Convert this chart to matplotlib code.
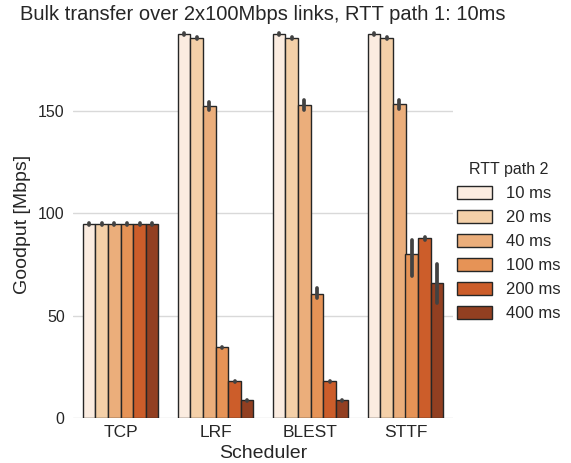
import matplotlib.pyplot as plt
import numpy as np
import pandas as pd
import seaborn as sns

schedulers = ['TCP', 'LRF', 'BLEST', 'STTF']
rtt2 = ['10 ms', '20 ms', '40 ms', '100 ms', '200 ms', '400 ms']

# mean goodput [Mbps], rows = scheduler, cols = RTT path 2
goodput = [
    [94.7, 94.7, 94.7, 94.7, 94.7, 94.7],
    [187.5, 185.5, 152.4, 34.5, 17.9, 8.6],
    [187.5, 185.5, 153.0, 60.8, 17.9, 8.6],
    [187.5, 185.5, 153.2, 80.3, 87.9, 65.8],
]
# confidence interval bounds
ci_low = [
    [94.3, 94.3, 94.3, 94.3, 94.3, 94.3],
    [187.1, 185.1, 150.6, 34.1, 17.5, 8.2],
    [187.1, 185.1, 150.6, 58.4, 17.5, 8.2],
    [187.1, 185.1, 150.8, 69.4, 87.0, 56.2],
]
ci_high = [
    [95.1, 95.1, 95.1, 95.1, 95.1, 95.1],
    [187.9, 185.9, 154.2, 34.9, 18.3, 9.0],
    [187.9, 185.9, 155.5, 63.6, 18.3, 9.0],
    [187.9, 185.9, 155.2, 86.8, 88.6, 75.4],
]

colors = ['#fbece0', '#f4d0a8', '#ebae7b', '#e69356', '#cc5d2a', '#923f21']

sns.set_style('whitegrid')
plt.rcParams['font.family'] = ['Liberation Sans', 'DejaVu Sans']

df = pd.DataFrame([(s, r, goodput[i][j]) for i, s in enumerate(schedulers)
                   for j, r in enumerate(rtt2)],
                  columns=['Scheduler', 'RTT path 2', 'Goodput'])

fig = plt.figure(figsize=(5.71, 4.63), dpi=100)
ax = fig.add_axes([73 / 571, 1 - 418 / 463, 380 / 571, 388 / 463])

sns.barplot(data=df, x='Scheduler', y='Goodput', hue='RTT path 2',
            palette=colors, saturation=1, errorbar=None, edgecolor='.15',
            linewidth=1, ax=ax)

# error bars
w = 0.8 / len(rtt2)
for i in range(len(schedulers)):
    for j in range(len(rtt2)):
        x = i + (j - (len(rtt2) - 1) / 2) * w
        ax.plot([x, x], [ci_low[i][j], ci_high[i][j]], color='.26', lw=2.7,
                solid_capstyle='round', zorder=5)

ax.set_ylim(0, 189.5)
ax.set_xlim(-0.5, 3.5)
ax.set_yticks([0, 50, 100, 150])
for s in ax.spines.values():
    s.set_visible(False)
ax.grid(axis='x', visible=False)
ax.grid(axis='y', color='.85', lw=1)
ax.tick_params(axis='x', labelsize=12.5, colors='.15', length=0, pad=5)
ax.tick_params(axis='y', labelsize=11.5, colors='.15', length=0, pad=6)
ax.set_xlabel('Scheduler', fontsize=14, color='.15', labelpad=4)
ax.set_ylabel('Goodput [Mbps]', fontsize=14, color='.15', labelpad=5)
ax.set_title('Bulk transfer over 2x100Mbps links, RTT path 1: 10ms',
             fontsize=14.5, color='.15', pad=7)

leg = ax.legend(title='RTT path 2', loc='center left',
                bbox_to_anchor=(1.0, 0.455), frameon=False, fontsize=12,
                title_fontsize=11.5, handlelength=2.1, handleheight=0.84,
                handletextpad=0.8, labelspacing=0.52, borderaxespad=0,
                borderpad=0.25)
leg.get_title().set_color('.15')
for t in leg.get_texts():
    t.set_color('.15')

fig.savefig('out.png', dpi=100)
